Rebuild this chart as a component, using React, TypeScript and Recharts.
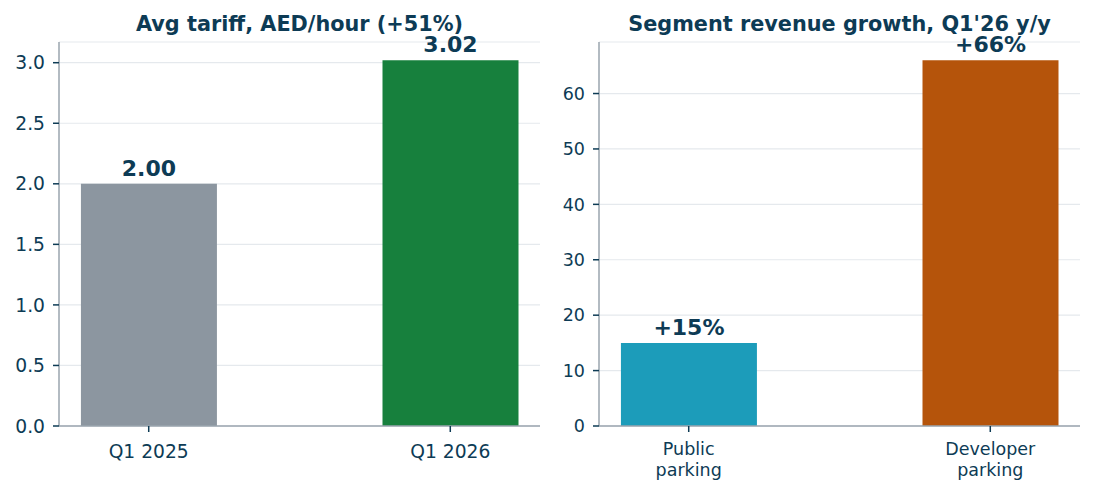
import React from "react";
import { BarChart, Bar, XAxis, YAxis, CartesianGrid, Cell, LabelList } from "recharts";

const NAVY = "#0d3b55";
const SPINE = "#9aa4ae";
const GRID = "#e5e9ed";
const FONT = "'DejaVu Sans', sans-serif";

const tariffPeriods = ["Q1 2025", "Q1 2026"];
const tariffValues = [2.0, 3.02];
const tariffColors = ["#8c96a0", "#17803d"];
const tariffTicks = [0, 0.5, 1, 1.5, 2, 2.5, 3];

const segmentNames = ["Public\nparking", "Developer\nparking"];
const segmentGrowth = [15, 66];
const segmentColors = ["#1c9cba", "#b5540b"];
const growthTicks = [0, 10, 20, 30, 40, 50, 60];

// bars sit at x = 0 and 1 on a numeric axis, 0.45 wide, with 5% padding on each side
const X_DOMAIN: [number, number] = [-0.2975, 1.2975];

interface PanelProps {
  left: number;
  width: number;
  labels: string[];
  values: number[];
  colors: string[];
  ticks: number[];
  yMax: number;
  yAxisWidth: number;
  marginLeft: number;
  marginRight: number;
  tickFontSize: number;
  firstLineDy: number;
  formatTick: (v: number) => string;
  formatValue: (v: number) => string;
}

function CategoryTick(props: any) {
  const { x, y, payload, labels, fontSize, firstLineDy } = props;
  const text: string = labels[payload.value] ?? "";
  const lines = text.split("\n");
  return (
    <text x={x} y={y} textAnchor="middle" fill={NAVY} fontSize={fontSize} fontFamily={FONT}>
      {lines.map((line, i) => (
        <tspan key={i} x={x} dy={i === 0 ? firstLineDy : fontSize * 1.2}>
          {line}
        </tspan>
      ))}
    </text>
  );
}

function Panel(p: PanelProps) {
  const data = p.values.map((value, i) => ({ pos: i, value }));
  return (
    <div style={{ position: "absolute", left: p.left, top: 0 }}>
      <BarChart
        width={p.width}
        height={494}
        data={data}
        margin={{ top: 42, right: p.marginRight, bottom: 38, left: p.marginLeft }}
      >
        <CartesianGrid vertical={false} stroke={GRID} strokeWidth={1.2} />
        <XAxis
          type="number"
          dataKey="pos"
          domain={X_DOMAIN}
          allowDataOverflow
          ticks={[0, 1]}
          height={30}
          axisLine={{ stroke: SPINE, strokeWidth: 1.5 }}
          tickLine={{ stroke: NAVY, strokeWidth: 1.5 }}
          tickSize={6}
          tickMargin={3}
          tick={(tp: any) => (
            <CategoryTick
              {...tp}
              labels={p.labels}
              fontSize={p.tickFontSize}
              firstLineDy={p.firstLineDy}
            />
          )}
        />
        <YAxis
          type="number"
          domain={[0, p.yMax]}
          allowDataOverflow
          ticks={p.ticks}
          width={p.yAxisWidth}
          axisLine={{ stroke: SPINE, strokeWidth: 1.5 }}
          tickLine={{ stroke: NAVY, strokeWidth: 1.5 }}
          tickSize={6}
          tickMargin={8}
          tickFormatter={p.formatTick}
          tick={{ fill: NAVY, fontSize: p.tickFontSize, fontFamily: FONT }}
        />
        <Bar dataKey="value" barSize={136} isAnimationActive={false}>
          {data.map((d, i) => (
            <Cell key={d.pos} fill={p.colors[i]} />
          ))}
          <LabelList
            dataKey="value"
            position="top"
            offset={8}
            formatter={(v: any) => p.formatValue(Number(v))}
            fill={NAVY}
            fontSize={22}
            fontWeight="bold"
            fontFamily={FONT}
          />
        </Bar>
      </BarChart>
    </div>
  );
}

export default function App() {
  return (
    <div
      style={{
        position: "absolute",
        left: 0,
        top: 0,
        width: 1095,
        height: 494,
        background: "#ffffff",
        fontFamily: FONT,
      }}
    >
      <Panel
        left={0}
        width={548}
        labels={tariffPeriods}
        values={tariffValues}
        colors={tariffColors}
        ticks={tariffTicks}
        yMax={3.02 * 1.05}
        yAxisWidth={50}
        marginLeft={9}
        marginRight={8}
        tickFontSize={18.7}
        firstLineDy={22.7}
        formatTick={(v) => v.toFixed(1)}
        formatValue={(v) => v.toFixed(2)}
      />
      <Panel
        left={548}
        width={547}
        labels={segmentNames}
        values={segmentGrowth}
        colors={segmentColors}
        ticks={growthTicks}
        yMax={66 * 1.05}
        yAxisWidth={40}
        marginLeft={11}
        marginRight={15}
        tickFontSize={17.5}
        firstLineDy={20}
        formatTick={(v) => String(v)}
        formatValue={(v) => `+${v}%`}
      />
      {/* panel titles */}
      <svg
        width={1095}
        height={494}
        style={{ position: "absolute", left: 0, top: 0, pointerEvents: "none" }}
      >
        <text x={299.5} y={31} textAnchor="middle" fill={NAVY} fontSize={20.8} fontWeight="bold" fontFamily={FONT}>
          Avg tariff, AED/hour (+51%)
        </text>
        <text x={839.5} y={31} textAnchor="middle" fill={NAVY} fontSize={20.8} fontWeight="bold" fontFamily={FONT}>
          Segment revenue growth, Q1'26 y/y
        </text>
      </svg>
    </div>
  );
}
